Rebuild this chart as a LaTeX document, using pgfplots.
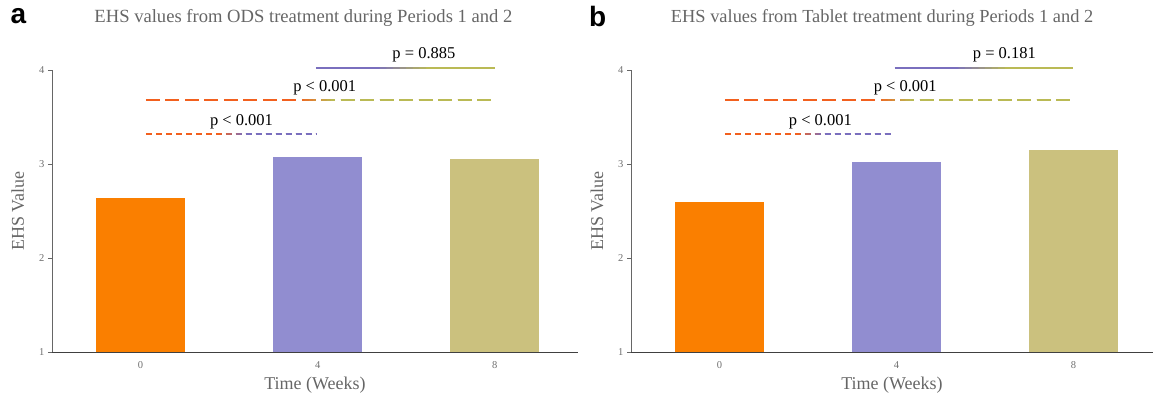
\documentclass[border=0pt]{standalone}
\usepackage{pgfplots}
\pgfplotsset{compat=1.18}
\usepackage{fontspec}
\setmainfont{Liberation Serif}
\newfontfamily\sansb{Liberation Sans}
\definecolor{barO}{RGB}{250,127,0}
\definecolor{barP}{RGB}{145,141,208}
\definecolor{barG}{RGB}{203,193,126}
\definecolor{lnO}{RGB}{242,96,30}
\definecolor{lnP}{RGB}{122,111,190}
\definecolor{lnG}{RGB}{186,186,85}
\definecolor{txtgray}{RGB}{102,102,102}
\definecolor{tickgray}{RGB}{110,110,110}
\newcommand{\gline}[8]{%
  \pgfplotsextra{%
    \draw[#4,#6] (axis cs:#1,#3) -- (axis cs:#2,#3);
    \foreach \k in {1,...,8}{%
      \pgfmathsetmacro{\xc}{#7+(#8-#7)*(\k-1)/8}%
      \pgfmathtruncatemacro{\pct}{round(100*\k/8)}%
      \begin{scope}
        \clip (axis cs:\xc,#3-0.1) rectangle (axis cs:#2+0.05,#3+0.1);
        \draw[#5!\pct!#4,#6] (axis cs:#1,#3) -- (axis cs:#2,#3);
      \end{scope}
    }%
  }%
}
\pgfplotsset{
  ehs/.style={
    anchor=south west, scale only axis, height=282pt,
    xmin=-0.5, ymin=1, ymax=4, clip=false,
    axis x line=bottom, axis y line=left,
    x axis line style={-, draw=black!75, line width=1pt},
    y axis line style={-, draw=black!60, line width=0.6pt},
    xtick={0,1,2}, xticklabels={0,4,8}, ytick={1,2,3,4},
    xtick style={draw=none},
    ytick style={draw=black!60, line width=0.6pt},
    tick align=outside, major tick length=4pt,
    /pgf/number format/assume math mode=true,
    tick label style={font=\fontsize{10.5}{12}\selectfont, text=tickgray},
    xticklabel style={yshift=-2pt},
    every axis y label/.style={at={(axis description cs:-0.065,0.5)}, rotate=90, anchor=center, font=\fontsize{18}{20}\selectfont, text=txtgray},
    every axis x label/.style={at={(axis description cs:0.5,-0.117)}, anchor=center, font=\fontsize{18}{20}\selectfont, text=txtgray},
    xlabel={Time (Weeks)}, ylabel={EHS Value},
    ybar, bar width=89pt, bar shift=0pt,
  }
}
\begin{document}
\begin{tikzpicture}
\useasboundingbox (0,0) rectangle (1154pt,397pt);
% Panel a
\begin{axis}[ehs, at={(52pt,45pt)}, width=526pt, xmax=2.47]
\addplot[draw=none, fill=barO] coordinates {(0,2.635)};
\addplot[draw=none, fill=barP] coordinates {(1,3.07)};
\addplot[draw=none, fill=barG] coordinates {(2,3.05)};
\gline{0.03}{0.99}{3.32}{lnO}{lnP}{line width=1.6pt, dash pattern=on 6.5pt off 3.5pt}{0.45}{0.6}
\gline{0.03}{2.0}{3.68}{lnO}{lnG}{line width=1.6pt, dash pattern=on 14pt off 5.5pt}{0.9}{1.1}
\gline{0.99}{2.0}{4.02}{lnP}{lnG}{line width=2.4pt}{1.35}{1.65}
\node[font=\fontsize{16.5}{18}\selectfont] at (axis cs:0.57,3.45) {p < 0.001};
\node[font=\fontsize{16.5}{18}\selectfont] at (axis cs:1.04,3.81) {p < 0.001};
\node[font=\fontsize{16.5}{18}\selectfont] at (axis cs:1.6,4.16) {p = 0.885};
\node[font=\fontsize{18.6}{20}\selectfont, text=txtgray] at (axis description cs:0.478,1.184) {EHS values from ODS treatment during Periods 1 and 2};
\node[font=\fontsize{28}{30}\sansb\bfseries] at (axis description cs:-0.064,1.19) {a};
\end{axis}
% Panel b
\begin{axis}[ehs, at={(631pt,45pt)}, width=522pt, xmax=2.45]
\addplot[draw=none, fill=barO] coordinates {(0,2.60)};
\addplot[draw=none, fill=barP] coordinates {(1,3.02)};
\addplot[draw=none, fill=barG] coordinates {(2,3.15)};
\gline{0.03}{0.99}{3.32}{lnO}{lnP}{line width=1.6pt, dash pattern=on 6.5pt off 3.5pt}{0.45}{0.6}
\gline{0.03}{2.0}{3.68}{lnO}{lnG}{line width=1.6pt, dash pattern=on 14pt off 5.5pt}{0.9}{1.1}
\gline{0.99}{2.0}{4.02}{lnP}{lnG}{line width=2.4pt}{1.35}{1.65}
\node[font=\fontsize{16.5}{18}\selectfont] at (axis cs:0.57,3.45) {p < 0.001};
\node[font=\fontsize{16.5}{18}\selectfont] at (axis cs:1.05,3.81) {p < 0.001};
\node[font=\fontsize{16.5}{18}\selectfont] at (axis cs:1.61,4.16) {p = 0.181};
\node[font=\fontsize{18.4}{20}\selectfont, text=txtgray] at (axis description cs:0.481,1.184) {EHS values from Tablet treatment during Periods 1 and 2};
\node[font=\fontsize{28}{30}\sansb\bfseries] at (axis description cs:-0.064,1.19) {b};
\end{axis}
\end{tikzpicture}
\end{document}
